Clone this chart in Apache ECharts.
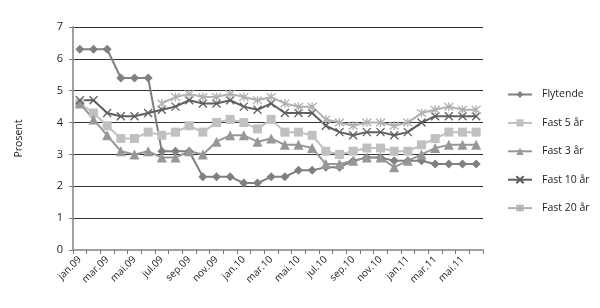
<!DOCTYPE html>
<html>
<head>
<meta charset="utf-8">
<script src="https://cdn.jsdelivr.net/npm/echarts@6/dist/echarts.min.js"></script>
<style>html,body{margin:0;padding:0;background:#fff}#c{width:600px;height:308px}</style>
</head>
<body>
<div id="c"></div>
<script>
const categories = ["jan.09","feb.09","mar.09","apr.09","mai.09","jun.09","jul.09","aug.09","sep.09","okt.09","nov.09","des.09",
  "jan.10","feb.10","mar.10","apr.10","mai.10","jun.10","jul.10","aug.10","sep.10","okt.10","nov.10","des.10",
  "jan.11","feb.11","mar.11","apr.11","mai.11","jun.11"];
const flytende = [6.3,6.3,6.3,5.4,5.4,5.4,3.1,3.1,3.1,2.3,2.3,2.3,2.1,2.1,2.3,2.3,2.5,2.5,2.6,2.6,2.8,2.9,2.9,2.8,2.8,2.8,2.7,2.7,2.7,2.7];
const fast5 = [4.6,4.3,3.9,3.5,3.5,3.7,3.6,3.7,3.9,3.7,4.0,4.1,4.0,3.8,4.1,3.7,3.7,3.6,3.1,3.0,3.1,3.2,3.2,3.1,3.1,3.3,3.5,3.7,3.7,3.7];
const fast3 = [4.6,4.1,3.6,3.1,3.0,3.1,2.9,2.9,3.1,3.0,3.4,3.6,3.6,3.4,3.5,3.3,3.3,3.2,2.7,2.7,2.8,2.9,2.9,2.6,2.8,3.0,3.2,3.3,3.3,3.3];
const fast10 = [4.7,4.7,4.3,4.2,4.2,4.3,4.4,4.5,4.7,4.6,4.6,4.7,4.5,4.4,4.6,4.3,4.3,4.3,3.9,3.7,3.6,3.7,3.7,3.6,3.7,4.0,4.2,4.2,4.2,4.2];
const fast20 = [null,null,null,null,null,null,4.6,4.8,4.9,4.8,4.8,4.9,4.8,4.7,4.8,4.6,4.5,4.5,4.1,4.0,3.9,4.0,4.0,3.9,4.0,4.3,4.4,4.5,4.4,4.4];
const yTicks = [0,1,2,3,4,5,6,7];

const FONT = "'Open Sans', 'DejaVu Sans', sans-serif";
const X_PATH = 'path://M0,0L10,10M10,0L0,10';
const STAR_PATH = 'path://M0,0L10,10M10,0L0,10M5,-1L5,11';

function mk(name, data, color, symbol, size, stroke) {
  return {
    name, type: 'line', data,
    symbol, symbolSize: size,
    showAllSymbol: true,
    lineStyle: { color, width: 2 },
    itemStyle: stroke ? { color, borderColor: color, borderWidth: 1.3 } : { color, borderWidth: 0 },
    emphasis: { disabled: true },
    animation: false
  };
}

const chart = echarts.init(document.getElementById('c'), null, { renderer: 'canvas' });
chart.setOption({
  animation: false,
  textStyle: { fontFamily: FONT },
  grid: { left: 73, right: 117, top: 27, bottom: 58, containLabel: false },
  legend: {
    orient: 'vertical', left: 502, top: 84,
    itemWidth: 24, itemHeight: 9, itemGap: 17.4,
    textStyle: { fontFamily: FONT, fontSize: 10.5, color: '#222', padding: [0,0,0,5] },
    data: ['Flytende','Fast 5 år','Fast 3 år','Fast 10 år','Fast 20 år']
  },
  xAxis: {
    type: 'category', data: categories, boundaryGap: true,
    axisLine: { lineStyle: { color: '#a0a0a0', width: 2 } },
    axisTick: { show: true, interval: 0, length: 4, lineStyle: { color: '#777', width: 1 } },
    axisLabel: { interval: 1, rotate: 45, margin: 8, fontSize: 10, color: '#222', fontFamily: FONT },
    splitLine: { show: false }
  },
  yAxis: {
    type: 'value', min: yTicks[0], max: yTicks[yTicks.length-1], interval: 1,
    name: 'Prosent', nameLocation: 'middle', nameGap: 48, nameRotate: 90,
    nameTextStyle: { fontSize: 10.5, color: '#222', fontFamily: FONT },
    axisLine: { show: true, lineStyle: { color: '#a0a0a0', width: 2 } },
    axisTick: { show: true, length: 4, lineStyle: { color: '#777' } },
    axisLabel: { margin: 10, fontSize: 11, color: '#222', fontFamily: FONT },
    splitLine: { show: true, lineStyle: { color: '#333', width: 1 } }
  },
  series: [
    mk('Flytende', flytende, '#808080', 'diamond', 9, false),
    mk('Fast 5 år', fast5, '#c0c0c0', 'rect', 9, false),
    mk('Fast 3 år', fast3, '#979797', 'triangle', 10, false),
    mk('Fast 10 år', fast10, '#5e5e5e', X_PATH, 8, true),
    mk('Fast 20 år', fast20, '#b0b0b0', STAR_PATH, 9, true)
  ]
});
</script>
</body>
</html>
